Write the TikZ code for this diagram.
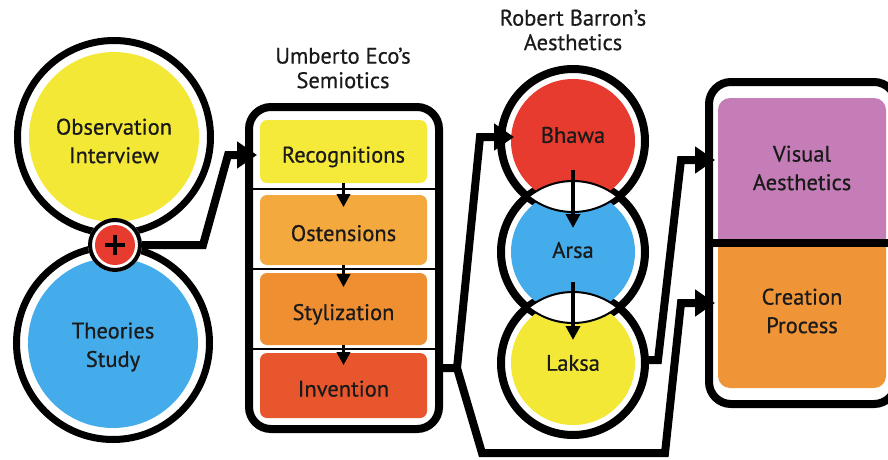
\documentclass[tikz,border=0pt]{standalone}
\usepackage{fontspec}
\setmainfont{PT Sans}[FakeBold=0.6]
\usetikzlibrary{arrows.meta,calc}
\definecolor{cyel}{HTML}{F4E837}
\definecolor{cblue}{HTML}{45ACEB}
\definecolor{cred}{HTML}{E63B2E}
\definecolor{crecog}{HTML}{F5E93A}
\definecolor{costen}{HTML}{F4A93E}
\definecolor{cstyl}{HTML}{F08F32}
\definecolor{cinv}{HTML}{E8562E}
\definecolor{cpink}{HTML}{C47DB6}
\definecolor{corange}{HTML}{F09537}
\definecolor{txt}{HTML}{1A1A1A}
\begin{document}
\begin{tikzpicture}[x=1pt,y=-1pt,
  lbl/.style={font=\fontsize{22.5}{28.5}\selectfont, text=txt, align=center, inner sep=0pt},
  ttl/.style={font=\fontsize{22.5}{24.5}\selectfont, text=txt, align=center, inner sep=0pt},
  ring/.style={draw=black, line width=7pt},
  bring/.style={draw=black, line width=8pt},
  conn/.style={line width=8pt, line join=miter, -{Triangle[length=20pt,width=26pt]}},
  smallarrow/.style={line width=3.5pt, -{Triangle[length=13pt,width=13pt]}},
  lensarrow/.style={line width=3.5pt, -{Triangle[length=14pt,width=14pt]}},
  ecostep/.style={lbl, minimum width=167pt, rounded corners=7pt, text height=22pt, text depth=0pt},
  disc/.style={circle, inner sep=0pt, minimum size=124pt}
]
\useasboundingbox (0,0) rectangle (888,460);
\clip (0,0) rectangle (888,460);

% ---------- left pair of circles ----------
\fill[cyel] (114,137) circle (85);
\draw[ring] (114,137) circle (96.5);
\fill[cblue] (113,343) circle (85);
\draw[ring] (113,343) circle (96.5);
\node[lbl] (obs) at (114,141) {Observation\\Interview};
\node[lbl] (theo) at (113,347) {Theories\\Study};

% plus badge joining the two circles
\node[circle, fill=white, minimum size=54pt, inner sep=0pt] (plus) at (115,245) {};
\draw[line width=4pt] (plus.center) circle (25);
\fill[cred] (plus.center) circle (20);
\draw[line width=4.5pt] ($(plus.center)+(-10,0)$) -- ($(plus.center)+(10,0)$);
\draw[line width=4.5pt] ($(plus.center)+(0,-10)$) -- ($(plus.center)+(0,10)$);

% ---------- Umberto Eco's semiotics ----------
\node[ttl] (ecotitle) at (343,68) {Umberto Eco’s\\Semiotics};
\node[draw, line width=8pt, rounded corners=22pt, minimum width=190pt, minimum height=322pt] (eco) at (344,268) {};
\node[ecostep, fill=crecog, minimum height=63pt] (recog) at (343.5,151.5) {Recognitions};
\node[ecostep, fill=costen, minimum height=70pt] (osten) at (343.5,230) {Ostensions};
\node[ecostep, fill=cstyl, minimum height=72pt] (styl) at (343.5,309) {Stylization};
\node[ecostep, fill=cinv, minimum height=65pt] (inv) at (343.5,385.5) {Invention};
\foreach \yy in {189,269,349}
  \draw[line width=2pt] (eco.west |- 0,\yy) -- (eco.east |- 0,\yy);
\draw[smallarrow] (recog.south) -- ++(0,24);
\draw[smallarrow] (osten.south) -- ++(0,22);
\draw[smallarrow] (styl.south) -- ++(0,20);

% ---------- Robert Barron's aesthetics ----------
\node[ttl] (bartitle) at (573,30) {Robert Barron’s\\Aesthetics};
\draw[bring] (573,141) circle (72);
\draw[bring] (573,252) circle (72);
\draw[bring] (573,363) circle (72);
\node[disc, fill=cred] (bhawa) at (573,141) {};
\node[disc, fill=cblue] (arsa) at (573,252) {};
\node[disc, fill=cyel] (laksa) at (573,363) {};
% white overlaps with thin outlines
\begin{scope}
  \clip (bhawa.center) circle (71);
  \fill[white] (arsa.center) circle (71);
  \draw[line width=2pt] (arsa.center) circle (71);
\end{scope}
\begin{scope}
  \clip (arsa.center) circle (71);
  \draw[line width=2pt] (bhawa.center) circle (71);
\end{scope}
\begin{scope}
  \clip (arsa.center) circle (71);
  \fill[white] (laksa.center) circle (71);
  \draw[line width=2pt] (laksa.center) circle (71);
\end{scope}
\begin{scope}
  \clip (laksa.center) circle (71);
  \draw[line width=2pt] (arsa.center) circle (71);
\end{scope}
\node[lbl] (tbhawa) at (573,135) {Bhawa};
\node[lbl] (tarsa) at (573,250) {Arsa};
\node[lbl] (tlaksa) at (573,363) {Laksa};
\draw[lensarrow] ($(bhawa.center)+(0,29)$) -- ($(arsa.center)+(0,-24)$);
\draw[lensarrow] ($(arsa.center)+(0,30)$) -- ($(laksa.center)+(0,-23)$);

% ---------- outcome box ----------
\node[draw, line width=8pt, rounded corners=22pt, minimum width=187pt, minimum height=322pt] (outbox) at (802.5,243) {};
\begin{scope}
  \clip (700,80) rectangle (900,239);
  \fill[cpink, rounded corners=12pt] (718,98) rectangle (886,270);
\end{scope}
\begin{scope}
  \clip (700,247) rectangle (900,400);
  \fill[corange, rounded corners=12pt] (718,215) rectangle (886,388);
\end{scope}
\draw[line width=8pt] (outbox.west |- 0,243) -- (outbox.east |- 0,243);
\node[lbl] (vis) at (802,168) {Visual\\Aesthetics};
\node[lbl] (crea) at (802,311) {Creation\\Process};

% ---------- connectors ----------
\coordinate (ecoin) at (257,155);
\coordinate (ecoout) at (443,368);
\coordinate (fork) at (457,368);
\coordinate (bhawain) at (514,137);
\coordinate (lkout) at (645,360);
\coordinate (visin) at (715,160);
\coordinate (creain) at (715,303);

\draw[conn] (plus.east) -- (203,245) -- (228,155) -- (ecoin);
\draw[conn] (ecoout) -- (fork) -- (480,137) -- (bhawain);
\draw[conn] (fork) -- (482,453) -- (665,453) -- (681,303) -- (creain);
\draw[conn] (lkout) -- (658,360) -- (681,160) -- (visin);
\end{tikzpicture}
\end{document}
